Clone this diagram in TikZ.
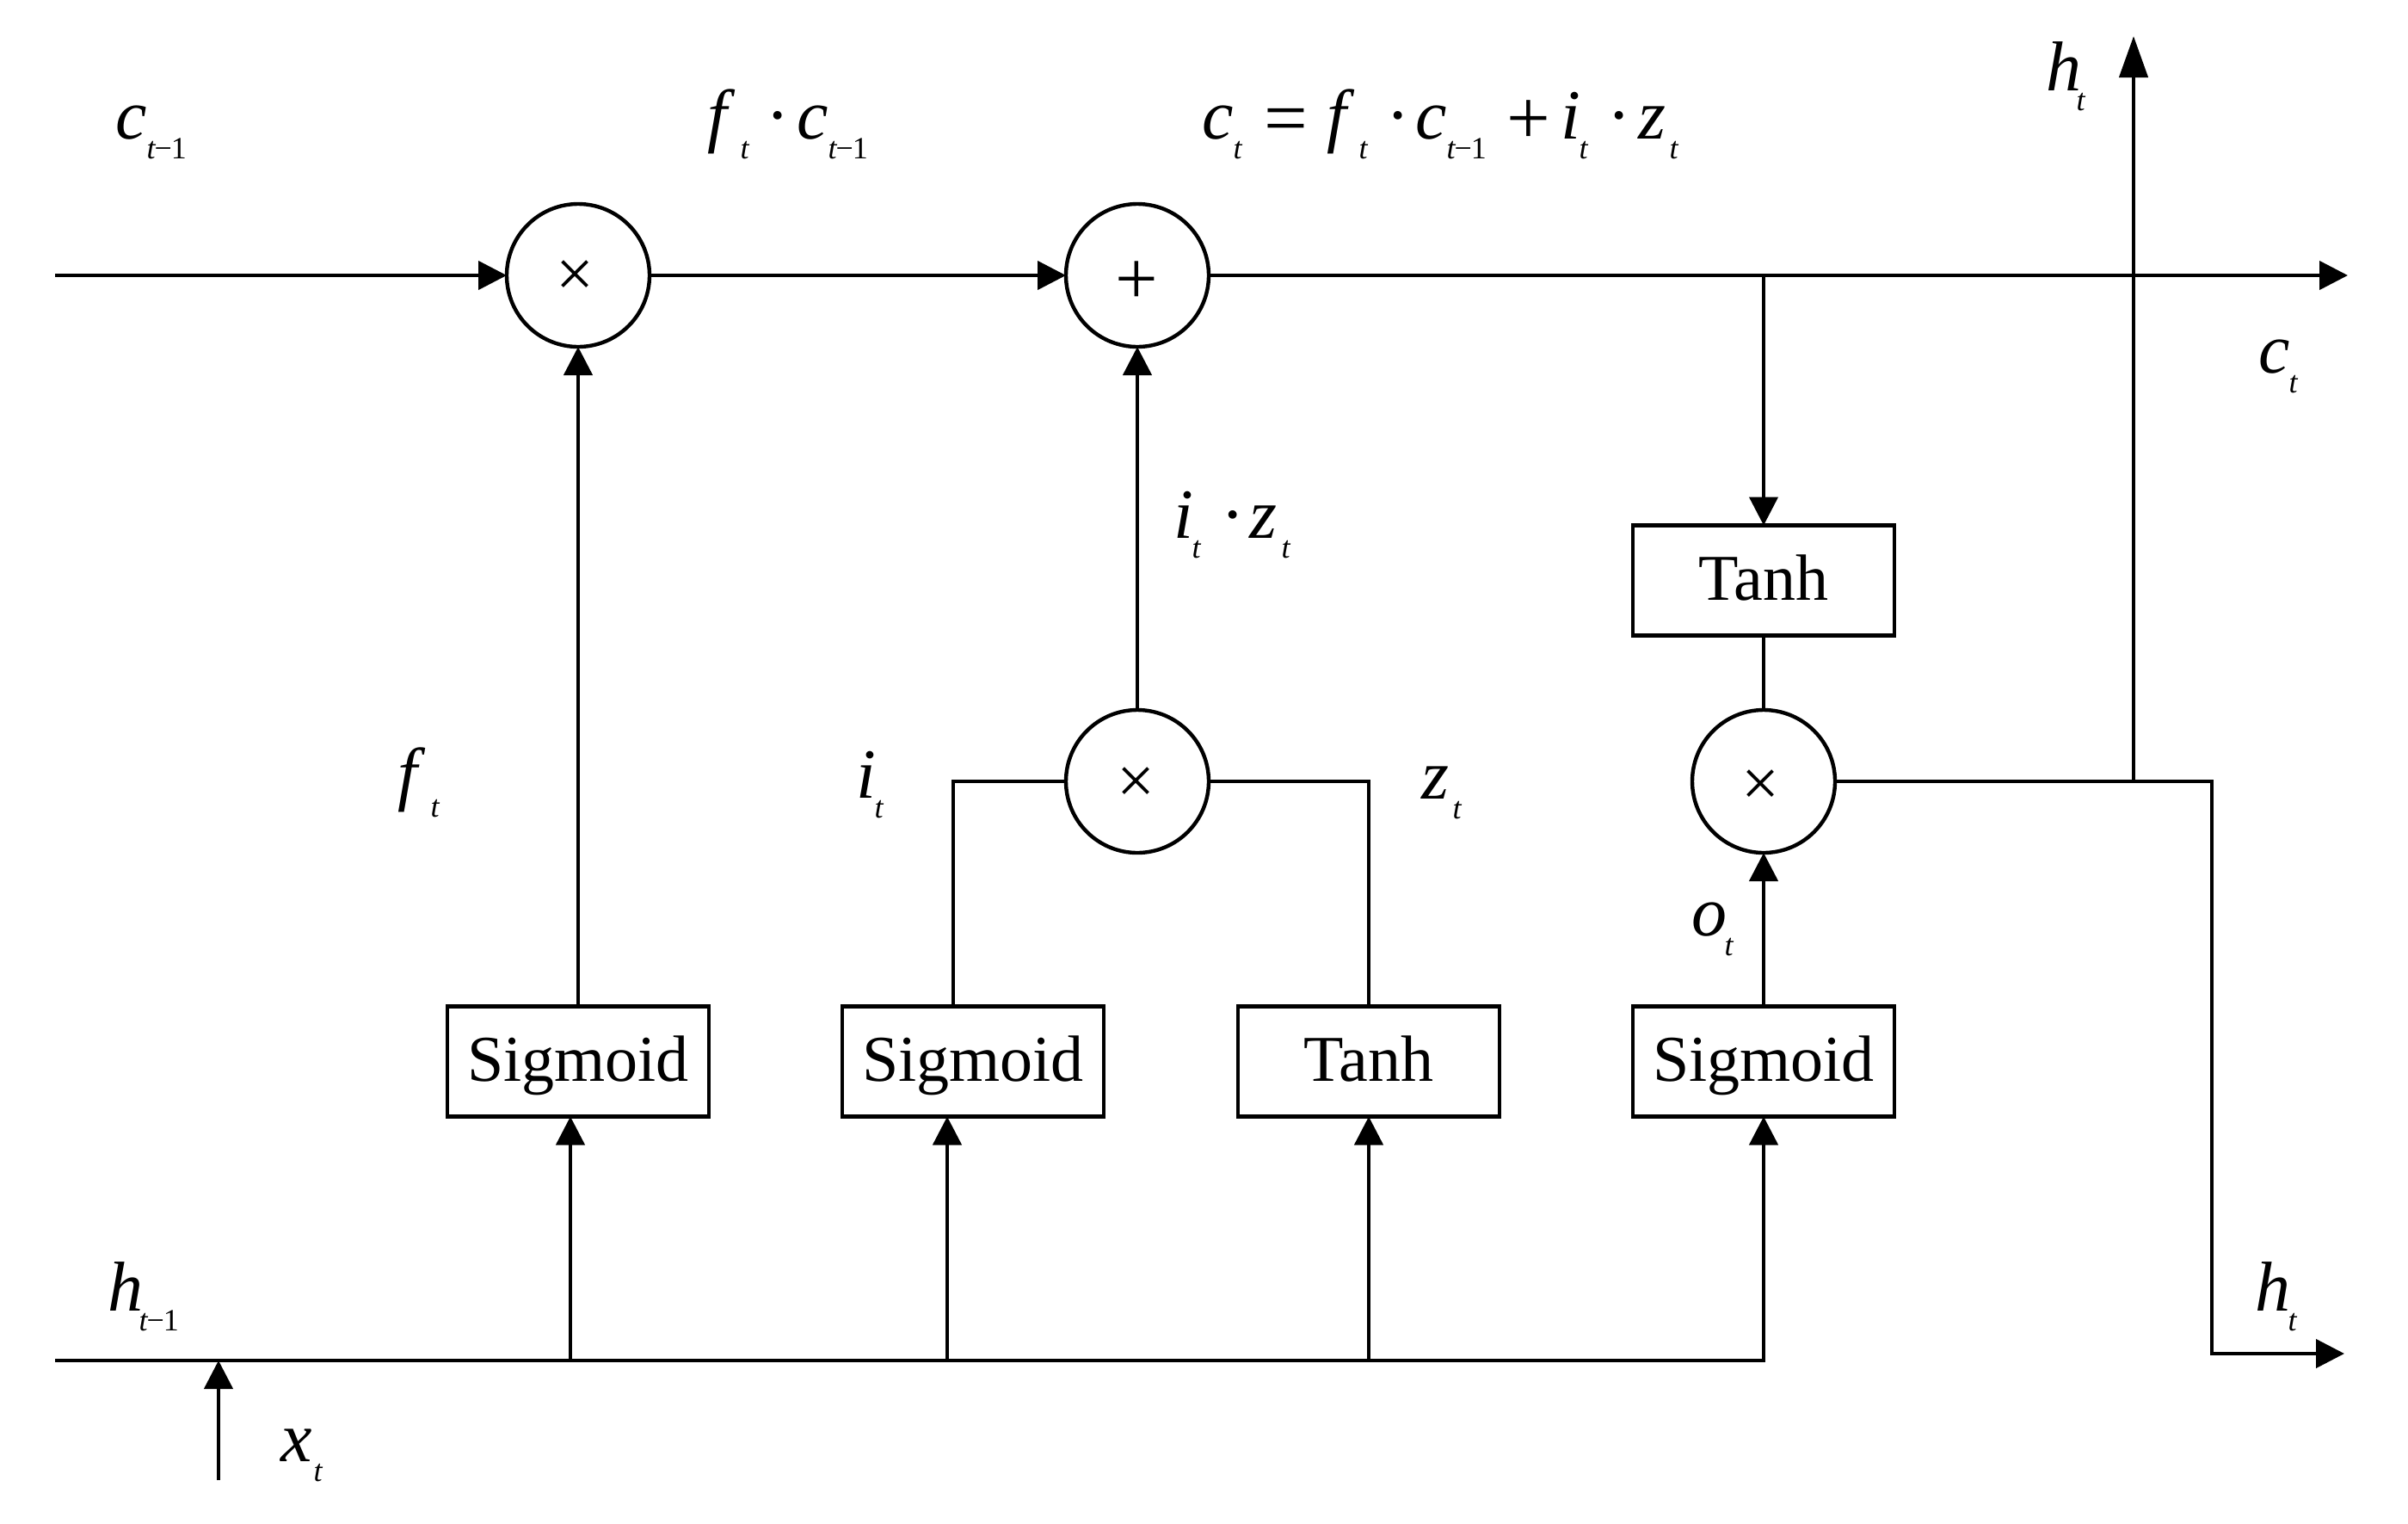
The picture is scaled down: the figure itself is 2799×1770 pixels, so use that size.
\documentclass[tikz,border=0pt]{standalone}
\usepackage{fontspec}
\setmainfont{Liberation Serif}
\usetikzlibrary{arrows.meta}
\newcommand\bigit{\fontsize{82}{90}\selectfont\itshape}
\newcommand\subit{\fontsize{36}{40}\selectfont\itshape}
\newcommand\upr{\fontsize{82}{90}\selectfont\upshape}
\newcommand\uprb{\fontsize{90}{90}\selectfont\upshape}
% piece placed at an x offset from the label's origin
\newcommand\pc[2]{\rlap{\hspace*{#1pt}#2}}
\newcommand\lt[2]{\pc{#1}{\bigit #2}}
\newcommand\ls[2]{\pc{#1}{\raisebox{-23pt}{\subit #2}}}
\newcommand\lu[2]{\pc{#1}{\upr #2}}
\newcommand\lb[2]{\pc{#1}{\raisebox{-6pt}{\uprb #2}}}
\newcommand\tmo{t\kern-1pt{\upshape −}\kern-1pt{\upshape 1}}
% operator symbol: x shift, baseline shift, character
\newcommand\symb[3]{\makebox[0pt]{\hspace*{#1pt}\smash{\raisebox{#2pt}{#3}}}}
\tikzset{
  x=1pt,y=-1pt,
  conn/.style={line width=4.4pt},
  arr/.style={conn,-{Triangle[length=33pt,width=33pt]}},
  op/.style={circle,draw,line width=4.4pt,minimum size=166pt,inner sep=0pt,outer sep=0pt},
  fn/.style={draw,line width=4.4pt,minimum width=304pt,minimum height=128pt,inner sep=0pt,outer sep=0pt,
    text height=50pt,text depth=5pt,font=\fontsize{76}{80}\selectfont},
  lab/.style={anchor=base west,inner sep=0pt,outer sep=0pt},
  sym/.style={font=\fontsize{78}{78}\selectfont}
}
\begin{document}
\begin{tikzpicture}
\useasboundingbox (0,0) rectangle (2799,1770);
% operators
\node[op,sym] (m1) at (672,320) {\symb{-8}{-24}{×}};
\node[op,font=\fontsize{88}{88}\selectfont] (a1) at (1322,320) {\symb{-2}{-33}{+}};
\node[op,sym] (m2) at (1322,908) {\symb{-4}{-25}{×}};
\node[op,sym] (m3) at (2050,908) {\symb{-8}{-28}{×}};
% function boxes
\node[fn] (t1) at (2050,674.5) {Tanh};
\node[fn] (s1) at (672,1233.5) {Sigmoid};
\node[fn] (s2) at (1131,1233.5) {Sigmoid};
\node[fn] (t2) at (1591,1233.5) {Tanh};
\node[fn] (s3) at (2050,1233.5) {Sigmoid};
% free ends and junctions
\coordinate (cin) at (64,320);
\coordinate (cout) at (2729,320);
\coordinate (cj) at (2050,320);
\coordinate (hin) at (64,1581);
\coordinate (hend) at (2050,1581);
\coordinate (j1) at (663,1581);
\coordinate (j2) at (1101,1581);
\coordinate (j3) at (1591,1581);
\coordinate (xin) at (254,1720);
\coordinate (xj) at (254,1581);
\coordinate (hj) at (2480,908);
\coordinate (htop) at (2480,42);
\coordinate (hc) at (2571,908);
\coordinate (hb) at (2571,1573);
\coordinate (hout) at (2725,1573);
\coordinate (s2t) at (1108,1168);
\coordinate (s2c) at (1108,908);
\coordinate (t2c) at (1591,908);
% connectors
\draw[arr] (cin) -- (m1.west);
\draw[arr] (m1.east) -- (a1.west);
\draw[arr] (a1.east) -- (cout);
\draw[arr] (cj) -- (t1.north);
\draw[conn] (t1.south) -- (m3.north);
\draw[arr] (s3.north) -- (m3.south);
\draw[arr] (s1.north) -- (m1.south);
\draw[arr] (m2.north) -- (a1.south);
\draw[conn] (s2t) -- (s2c) -- (m2.west);
\draw[conn] (t2.north) -- (t2c) -- (m2.east);
\draw[arr] (hin) -- (hend) -- (s3.south);
\draw[arr] (j1) -- (j1 |- s1.south);
\draw[arr] (j2) -- (j2 |- s2.south);
\draw[arr] (j3) -- (t2.south);
\draw[arr] (xin) -- (xj);
\draw[conn,-{Triangle[length=48pt,width=33pt]}] (hj) -- (htop);
\draw[arr] (m3.east) -- (hc) -- (hb) -- (hout);
% labels
\node[lab] (l1) at (134,161) {\lt{0}{c}\ls{36}{\tmo}};
\node[lab] (l2) at (820,161) {\lt{2}{f}\ls{40}{t}\lu{70}{·}\lt{106}{c}\ls{142}{\tmo}};
\node[lab] (l3) at (1397,161) {\lt{0}{c}\ls{36}{t}\lb{72}{=}\lt{145}{f}\ls{182}{t}\lu{214}{·}\lt{248}{c}\ls{284}{\tmo}\lb{354}{+}\lt{417}{i}\ls{438}{t}\lu{471}{·}\lt{507}{z}\ls{543}{t}};
\node[lab] (l4) at (2378,105) {\lt{0}{h}\ls{35}{t}};
\node[lab] (l5) at (2625,433) {\lt{0}{c}\ls{35}{t}};
\node[lab] (l6) at (1364,625) {\lt{0}{i}\ls{21}{t}\lu{55}{·}\lt{88}{z}\ls{125}{t}};
\node[lab] (l7) at (460,926) {\lt{2}{f}\ls{40}{t}};
\node[lab] (l8) at (995,927) {\lt{0}{i}\ls{21}{t}};
\node[lab] (l9) at (1652,928) {\lt{0}{z}\ls{36}{t}};
\node[lab] (l10) at (1966,1087) {\lt{0}{o}\ls{38}{t}};
\node[lab] (l11) at (125,1523) {\lt{0}{h}\ls{36}{\tmo}};
\node[lab] (l12) at (326,1698) {\lt{0}{x}\ls{38}{t}};
\node[lab] (l13) at (2621,1523) {\lt{0}{h}\ls{38}{t}};
\end{tikzpicture}
\end{document}
